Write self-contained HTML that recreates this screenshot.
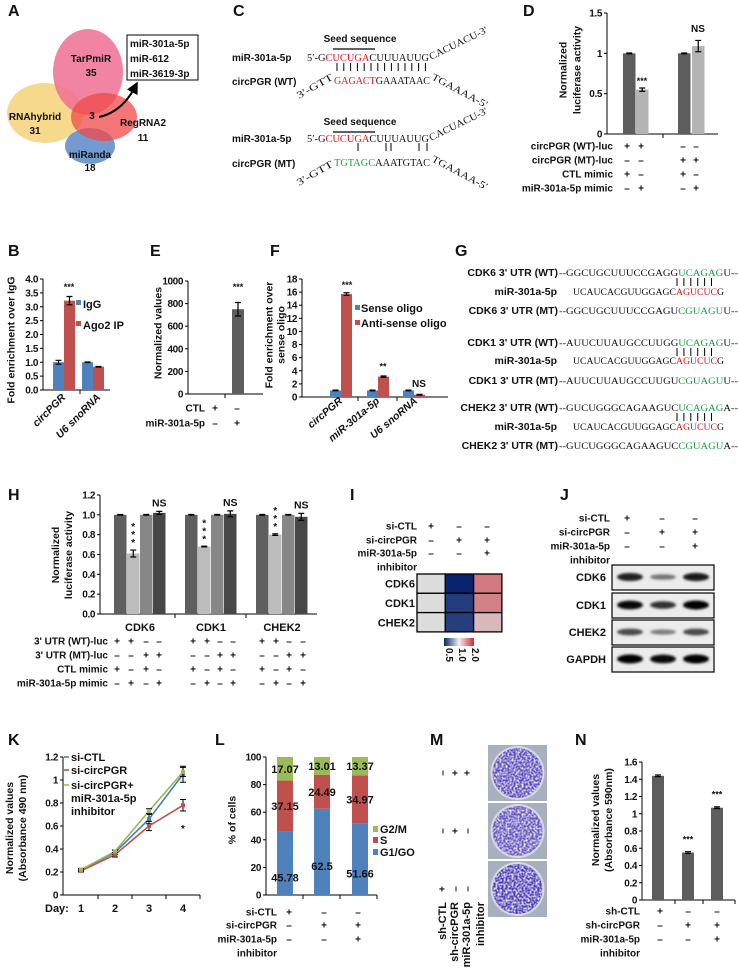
<!DOCTYPE html>
<html><head><meta charset="utf-8">
<style>
html,body{margin:0;padding:0;background:#fff;}
svg{display:block;font-family:"Liberation Sans",Arial,sans-serif;}
.t{font-size:10px;font-weight:bold;fill:#111;}
.tk{letter-spacing:-0.4px;}
.seq{font-family:"Liberation Serif",serif;font-size:10px;fill:#111;}
.lab{font-size:16px;font-weight:bold;fill:#111;}
</style></head>
<body>
<svg id="fig" width="738" height="976" viewBox="0 0 738 976" xmlns="http://www.w3.org/2000/svg">
<defs>
<filter id="blur" x="-20%" y="-50%" width="140%" height="200%"><feGaussianBlur stdDeviation="1.4"/></filter>
<filter id="speck"><feTurbulence type="fractalNoise" baseFrequency="0.5" numOctaves="2" result="n"/><feColorMatrix in="n" type="matrix" values="0 0 0 0 1 0 0 0 0 1 0 0 0 0 1 0 0 0 -2.2 1.3" result="m"/><feComposite in="m" in2="SourceGraphic" operator="in" result="c"/><feMerge><feMergeNode in="SourceGraphic"/><feMergeNode in="c"/></feMerge></filter>
<marker id="arrowhead" markerWidth="6" markerHeight="6" refX="3" refY="3" orient="auto"><path d="M0,0 L6,3 L0,6 Z" fill="#000"/></marker>
</defs>

<g>
<text class="lab" x="8" y="16">A</text>
<ellipse cx="45" cy="113" rx="38" ry="30" fill="#f6d27a" opacity="0.85"/>
<ellipse cx="88" cy="72" rx="35" ry="43" fill="#ee6e93" opacity="0.85"/>
<ellipse cx="90" cy="146" rx="25" ry="18" fill="#5b8ac8" opacity="0.85"/>
<ellipse cx="104" cy="117" rx="33" ry="24" fill="#f04848" opacity="0.75"/>
<text class="t" x="91" y="62" text-anchor="middle">TarPmiR</text>
<text class="t" x="91" y="76" text-anchor="middle">35</text>
<text class="t" x="35" y="120" text-anchor="middle">RNAhybrid</text>
<text class="t" x="35" y="134" text-anchor="middle">31</text>
<text class="t" x="92" y="119" text-anchor="middle">3</text>
<text class="t" x="143" y="126" text-anchor="middle">RegRNA2</text>
<text class="t" x="143" y="141" text-anchor="middle">11</text>
<text class="t" x="90" y="158" text-anchor="middle">miRanda</text>
<text class="t" x="90" y="171" text-anchor="middle">18</text>
<path d="M99,117 Q122,112 135,87" stroke="#000" stroke-width="2" fill="none" marker-end="url(#arrowhead)"/>
<rect x="127" y="35" width="71" height="45" fill="#fff" stroke="#000" stroke-width="1"/>
<text class="t" x="130" y="47">miR-301a-5p</text>
<text class="t" x="130" y="62">miR-612</text>
<text class="t" x="130" y="77">miR-3619-3p</text>
</g>

<g>
<text class="lab" x="233" y="16">C</text>
<text class="t" x="360" y="42" text-anchor="middle">Seed sequence</text>
<line x1="333" y1="49" x2="375" y2="49" stroke="#000" stroke-width="1.3"/>
<text class="t" x="232" y="61">miR-301a-5p</text>
<text class="seq" x="307" y="61" textLength="122" lengthAdjust="spacingAndGlyphs">5′-G<tspan fill="#e0141e">CUCUGA</tspan>CUUUAUUG</text>
<text class="seq" transform="translate(431,60) rotate(-26)" textLength="64" lengthAdjust="spacingAndGlyphs">CACUACU-3′</text>
<g id="wtbars" stroke="#000" stroke-width="1"></g>
<text class="t" x="232" y="85">circPGR (WT)</text>
<text class="seq" transform="translate(299,99) rotate(-30)" textLength="40" lengthAdjust="spacingAndGlyphs">3′-GTT</text>
<text class="seq" x="334" y="84" textLength="96" lengthAdjust="spacingAndGlyphs"><tspan fill="#e0141e">GAGACT</tspan>GAAATAAC</text>
<text class="seq" transform="translate(431,79) rotate(28)" textLength="62" lengthAdjust="spacingAndGlyphs">TGAAAA-5′</text>

<text class="t" x="360" y="125" text-anchor="middle">Seed sequence</text>
<line x1="333" y1="132" x2="375" y2="132" stroke="#000" stroke-width="1.3"/>
<text class="t" x="232" y="142">miR-301a-5p</text>
<text class="seq" x="307" y="142" textLength="122" lengthAdjust="spacingAndGlyphs">5′-G<tspan fill="#e0141e">CUCUGA</tspan>CUUUAUUG</text>
<text class="seq" transform="translate(431,141) rotate(-26)" textLength="64" lengthAdjust="spacingAndGlyphs">CACUACU-3′</text>
<g id="mtbars" stroke="#000" stroke-width="1"></g>
<text class="t" x="232" y="167">circPGR (MT)</text>
<text class="seq" transform="translate(299,186) rotate(-30)" textLength="40" lengthAdjust="spacingAndGlyphs">3′-GTT</text>
<text class="seq" x="334" y="166" textLength="96" lengthAdjust="spacingAndGlyphs"><tspan fill="#16a04a">TGTAGC</tspan>AAATGTAC</text>
<text class="seq" transform="translate(431,161) rotate(28)" textLength="62" lengthAdjust="spacingAndGlyphs">TGAAAA-5′</text>
</g>

<g id="panelG">
<text class="lab" x="455" y="256">G</text>
</g>

<text class="lab" x="523" y="16">D</text>
<text class="lab" x="8" y="256">B</text>
<text class="lab" x="150" y="256">E</text>
<text class="lab" x="270" y="256">F</text>
<text class="lab" x="8" y="500">H</text>
<text class="lab" x="350" y="500">I</text>
<text class="lab" x="560" y="500">J</text>
<text class="lab" x="8" y="745">K</text>
<text class="lab" x="215" y="745">L</text>
<text class="lab" x="430" y="745">M</text>
<text class="lab" x="575" y="745">N</text>
</svg>

<script>
const dVals = [1, 0.55, 1, 1.09];
const dErr = [0.005, 0.02, 0.005, 0.07];
const dTicks = [0, 0.5, 1, 1.5];
const dTickLabels = ["0", "0.5", "1", "1.5"];

const bCats = ["circPGR", "U6 snoRNA"];
const bIgG = [1.0, 1.0];
const bAgo = [3.22, 0.84];
const bErrIgG = [0.07, 0.01];
const bErrAgo = [0.15, 0.01];
const bTicks = [0, 0.5, 1, 1.5, 2, 2.5, 3, 3.5, 4];
const bTickLabels = ["0.0","0.5","1.0","1.5","2.0","2.5","3.0","3.5","4.0"];

const eVals = [0, 750];
const eErr = [0, 60];
const eTicks = [0, 200, 400, 600, 800, 1000];

const fCats = ["circPGR", "miR-301a-5p", "U6 snoRNA"];
const fSense = [1, 1, 1];
const fAnti = [15.7, 3.1, 0.35];
const fErrSense = [0.05, 0.05, 0.05];
const fErrAnti = [0.2, 0.1, 0.05];
const fTicks = [0, 2, 4, 6, 8, 10, 12, 14, 16, 18];

const hGenes = ["CDK6", "CDK1", "CHEK2"];
const hVals = [[1, 0.61, 1, 1.02], [1, 0.68, 1, 1.01], [1, 0.80, 1, 0.98]];
const hErr = [[0.003, 0.035, 0.003, 0.015], [0.003, 0.003, 0.003, 0.03], [0.003, 0.008, 0.003, 0.035]];
const hTicks = [0, 0.2, 0.4, 0.6, 0.8, 1.0, 1.2];
const hTickLabels = ["0.0","0.2","0.4","0.6","0.8","1.0","1.2"];

const iGenes = ["CDK6", "CDK1", "CHEK2"];
const iVals = [[1, 0.5, 1.55], [1, 0.62, 1.5], [1, 0.63, 1.2]];

const jProteins = ["CDK6", "CDK1", "CHEK2", "GAPDH"];
const jBand = [[0.8, 0.3, 0.85], [0.95, 0.7, 1.0], [0.55, 0.25, 0.55], [1.0, 0.95, 1.0]];

const kDays = [1, 2, 3, 4];
const kCtl = [0.22, 0.37, 0.66, 1.05];
const kCirc = [0.21, 0.35, 0.60, 0.78];
const kRes = [0.22, 0.38, 0.73, 1.07];
const kErrCtl = [0.01, 0.02, 0.04, 0.07];
const kErrCirc = [0.01, 0.02, 0.04, 0.05];
const kErrRes = [0.01, 0.01, 0.02, 0.04];
const kTicks = [0, 0.2, 0.4, 0.6, 0.8, 1, 1.2];
const kTickLabels = ["0","0.2","0.4","0.6","0.8","1","1.2"];

const lG1 = [45.78, 62.5, 51.66];
const lS = [37.15, 24.49, 34.97];
const lG2 = [17.07, 13.01, 13.37];
const lTicks = [0, 20, 40, 60, 80, 100];

const nVals = [1.44, 0.55, 1.07];
const nErr = [0.01, 0.01, 0.01];
const nTicks = [0, 0.2, 0.4, 0.6, 0.8, 1, 1.2, 1.4, 1.6];
const nTickLabels = ["0","0.2","0.4","0.6","0.8","1","1.2","1.4","1.6"];

const NS = "http://www.w3.org/2000/svg";
const svg = document.getElementById('fig');
function mk(tag, attrs, parent) {
  const e = document.createElementNS(NS, tag);
  for (const k in attrs) e.setAttribute(k, attrs[k]);
  (parent || svg).appendChild(e);
  return e;
}
function txt(x, y, s, anchor, extra, parent) {
  const t = mk('text', Object.assign({x: x, y: y, class: 't', 'text-anchor': anchor || 'start'}, extra || {}), parent);
  t.textContent = s;
  return t;
}
function scale(v, y0, yTop, max) { return y0 - v / max * (y0 - yTop); }
function yAxis(x, y0, yTop, max, ticks, labels, xEnd, dividers, name) {
  const g = mk('g', {});
  
  
  mk('line', {x1: x, y1: y0, x2: x, y2: yTop, stroke: '#000', 'stroke-width': 1}, g);
  mk('line', {x1: x, y1: y0, x2: xEnd, y2: y0, stroke: '#000', 'stroke-width': 1}, g);
  ticks.forEach((v, i) => {
    const y = scale(v, y0, yTop, max);
    mk('line', {x1: x - 3, y1: y, x2: x, y2: y, stroke: '#000'}, g);
    txt(x - 5, y + 3.5, labels[i], 'end', {class: 't tk'}, g);
  });
  (dividers || []).forEach(dx => mk('line', {x1: dx, y1: y0, x2: dx, y2: y0 + 4, stroke: '#000'}, g));
  return g;
}
function bar(x, w, v, err, y0, yTop, max, fill, name) {
  const y = scale(v, y0, yTop, max);
  const r = mk('rect', {x: x, y: y, width: w, height: y0 - y, fill: fill});
  
  
  if (err > 0) {
    const cx = x + w / 2, ya = scale(v + err, y0, yTop, max), yb = scale(v - err, y0, yTop, max);
    const eb = mk('path', {d: `M${cx-3},${ya}H${cx+3}M${cx},${ya}V${yb}M${cx-3},${yb}H${cx+3}`, stroke: '#000', 'stroke-width': 1.2, fill: 'none'});
    
    
  }
  return y;
}
function signRows(labels, rightX, cols, ys, signs) {
  labels.forEach((l, i) => { if (l) txt(rightX, ys[i] + 3.5, l, 'end'); });
  signs.forEach((row, i) => row.forEach((s, j) => {
    txt(cols[j], ys[i] + 3.5, s === '+' ? '+' : '–', 'middle');
  }));
}
function rotLabel(cx, cy, lines, gap) {
  lines.forEach((l, i) => {
    const t = txt(0, 0, l, 'middle', {transform: `translate(${cx + (i - (lines.length - 1) / 2) * gap},${cy}) rotate(-90)`, style: 'font-size:10.5px'});
    t.setAttribute('dy', '3.5');
  });
}

(function(){
  const g1 = document.getElementById('wtbars');
  for (let i = 0; i < 14; i++) { const x = 337 + i * 6.8; mk('line', {x1: x, y1: 63, x2: x, y2: 71}, g1); }
  const g2 = document.getElementById('mtbars');
  [358, 386, 391, 419, 427].forEach(x => mk('line', {x1: x, y1: 143, x2: x, y2: 151}, g2));
})();

(function(){
  const x = 607, y0 = 134, yTop = 13, max = 1.5;
  yAxis(x, y0, yTop, max, dTicks, dTickLabels, 718, [663], 'd-axes');
  const xs = [623, 636, 678, 692], fills = ['#5d5d5d', '#b4b4b4', '#5d5d5d', '#b4b4b4'];
  dVals.forEach((v, i) => bar(xs[i], 12.5, v, dErr[i], y0, yTop, max, fills[i], 'd-bar-' + i));
  txt(642, scale(dVals[1] + dErr[1], y0, yTop, max) - 4, '***', 'middle', {style: 'font-size:9px'});
  txt(698, 32, 'NS', 'middle');
  rotLabel(570, 70, ['Normalized', 'luciferase activity'], 14);
  signRows(['circPGR (WT)-luc', 'circPGR (MT)-luc', 'CTL mimic', 'miR-301a-5p mimic'], 613, [627, 641, 683, 696], [146, 160, 174, 188],
    [['+','+','-','-'], ['-','-','+','+'], ['+','-','+','-'], ['-','+','-','+']]);
})();

(function(){
  const x = 43, y0 = 390, yTop = 279, max = 4;
  yAxis(x, y0, yTop, max, bTicks, bTickLabels, 110, [80], 'b-axes');
  const base = [53, 82];
  bCats.forEach((c, i) => {
    bar(base[i], 11, bIgG[i], bErrIgG[i], y0, yTop, max, '#4f81bd', 'b-bar-igg-' + i);
    bar(base[i] + 11, 11, bAgo[i], bErrAgo[i], y0, yTop, max, '#c0504d', 'b-bar-ago2-' + i);
  });
  txt(69, 290, '***', 'middle', {style: 'font-size:9px'});
  mk('rect', {x: 76, y: 300, width: 5, height: 5, fill: '#4f81bd'});
  txt(83, 308, 'IgG', 'start', {style: 'font-size:11px'});
  mk('rect', {x: 76, y: 321, width: 5, height: 5, fill: '#c0504d'});
  txt(83, 329, 'Ago2 IP', 'start', {style: 'font-size:11px'});
  rotLabel(11, 340, ['Fold enrichment over IgG'], 0);
  bCats.forEach((c, i) => txt(0, 0, c, 'end', {transform: `translate(${[66, 101][i]},398) rotate(-45)`, 'font-style': 'italic', style: 'font-size:10.5px'}));
})();

(function(){
  const x = 188, y0 = 394, yTop = 281, max = 1000;
  yAxis(x, y0, yTop, max, eTicks, eTicks.map(String), 263, [225], 'e-axes');
  bar(207, 12, eVals[0], eErr[0], y0, yTop, max, '#5d5d5d', 'e-bar-ctl');
  bar(232, 12, eVals[1], eErr[1], y0, yTop, max, '#5d5d5d', 'e-bar-mir');
  txt(238, 290, '***', 'middle', {style: 'font-size:9px'});
  rotLabel(158, 333, ['Normalized values'], 0);
  signRows(['CTL', 'miR-301a-5p'], 205, [215, 237], [408, 423], [['+','-'], ['-','+']]);
})();

(function(){
  const x = 302, y0 = 397, yTop = 279, max = 18;
  yAxis(x, y0, yTop, max, fTicks, fTicks.map(String), 448, [358, 397], 'f-axes');
  const base = [330, 367, 403];
  fCats.forEach((c, i) => {
    bar(base[i], 11, fSense[i], fErrSense[i], y0, yTop, max, '#4f81bd', 'f-bar-sense-' + i);
    bar(base[i] + 11, 11, fAnti[i], fErrAnti[i], y0, yTop, max, '#c0504d', 'f-bar-antisense-' + i);
  });
  txt(347, scale(fAnti[0] + 0.3, y0, yTop, max) - 4, '***', 'middle', {style: 'font-size:9px'});
  txt(383, scale(fAnti[1] + 0.3, y0, yTop, max) - 5, '**', 'middle', {style: 'font-size:9px'});
  txt(419, 387, 'NS', 'middle');
  mk('rect', {x: 355, y: 305, width: 5, height: 5, fill: '#4f81bd'});
  txt(361, 312, 'Sense oligo', 'start', {style: 'font-size:11px'});
  mk('rect', {x: 355, y: 320, width: 5, height: 5, fill: '#c0504d'});
  txt(361, 327, 'Anti-sense oligo', 'start', {style: 'font-size:11px'});
  rotLabel(275, 335, ['Fold enrichment over', 'sense oligo'], 12);
  fCats.forEach((c, i) => txt(0, 0, c, 'end', {transform: `translate(${[343, 380, 418][i]},402) rotate(-40)`, 'font-style': 'italic', style: 'font-size:10.5px'}));
})();

(function(){
  const g = document.getElementById('panelG');
  const rows = [
    ['CDK6 3\' UTR (WT)', '--GGCUGCUUUCCGAGG', 'UCAGAG', 'U--', '#16a04a', 272],
    ['miR-301a-5p', 'UCAUCACGUUGGAGC', 'AGUCUC', 'G', '#e0141e', 291],
    ['CDK6 3\' UTR (MT)', '--GGCUGCUUUCCGAGU', 'CGUAGU', 'U--', '#16a04a', 310],
    ['CDK1 3\' UTR (WT)', '--AUUCUUAUGCCUUGG', 'UCAGAG', 'U--', '#16a04a', 342],
    ['miR-301a-5p', 'UCAUCACGUUGGAGC', 'AGUCUC', 'G', '#e0141e', 360],
    ['CDK1 3\' UTR (MT)', '--AUUCUUAUGCCUUGU', 'CGUAGU', 'U--', '#16a04a', 380],
    ['CHEK2 3\' UTR (WT)', '--GUCUGGGCAGAAGUC', 'UCAGAG', 'A--', '#16a04a', 407],
    ['miR-301a-5p', 'UCAUCACGUUGGAGC', 'AGUCUC', 'G', '#e0141e', 426],
    ['CHEK2 3\' UTR (MT)', '--GUCUGGGCAGAAGUC', 'CGUAGU', 'A--', '#16a04a', 445]
  ];
  rows.forEach((r, i) => {
    const isMir = r[0] === 'miR-301a-5p';
    txt(isMir ? 557 : 558, r[5] + 4, r[0], 'end', {style: 'font-size:10.5px'}, g);
    const t = mk('text', {x: isMir ? 573 : 559, y: r[5] + 4, class: 'seq', textLength: isMir ? 151 : 179, lengthAdjust: 'spacingAndGlyphs', style: 'font-size:9px'}, g);
    t.appendChild(document.createTextNode(r[1]));
    const sp = mk('tspan', {fill: r[4]}, t); sp.textContent = r[2];
    t.appendChild(document.createTextNode(r[3]));
    if (i % 3 === 0) {
      for (let k = 0; k < 6; k++) { const x = 677 + k * 6.9; mk('line', {x1: x, y1: r[5] + 6, x2: x, y2: r[5] + 14, stroke: '#000'}, g); }
    }
  });
})();

(function(){
  const x = 100, y0 = 614, yTop = 495, max = 1.2;
  yAxis(x, y0, yTop, max, hTicks, hTickLabels, 317, [175, 246], 'h-axes');
  const starts = [114, 185, 256], fills = ['#5f5f5f', '#bcbcbc', '#878787', '#474747'];
  hGenes.forEach((gname, gi) => {
    hVals[gi].forEach((v, j) => bar(starts[gi] + j * 13, 12.5, v, hErr[gi][j], y0, yTop, max, fills[j], 'h-bar-' + gname + '-' + j));
    const ys = scale(hVals[gi][1] + hErr[gi][1], y0, yTop, max);
    for (let k = 0; k < 3; k++) txt(starts[gi] + 13 + 6.25, ys - 4 - k * 8, '*', 'middle', {style: 'font-size:10px'});
    txt(starts[gi] + 39 + 6.25, scale(hVals[gi][3] + hErr[gi][3], y0, yTop, max) - 5, 'NS', 'middle', {style: 'font-size:10.5px'});
    txt(starts[gi] + 26, 631, gname, 'middle', {style: 'font-size:11px'});
  });
  rotLabel(62, 555, ['Normalized', 'luciferase activity'], 13);
  const cols = [117, 131, 146, 159, 193, 207, 220, 233, 262, 276, 289, 303];
  const pat = [['+','+','-','-'], ['-','-','+','+'], ['+','-','+','-'], ['-','+','-','+']];
  signRows(['3\' UTR (WT)-luc', '3\' UTR (MT)-luc', 'CTL mimic', 'miR-301a-5p mimic'], 108, cols, [641, 655, 669, 683],
    pat.map(r => r.concat(r, r)));
})();

(function(){
  signRows(['si-CTL', 'si-circPGR', 'miR-301a-5p', 'inhibitor'], 417, [431, 459, 487], [526, 540, 553, 567],
    [['+','-','-'], ['-','+','+'], ['-','-','+'], []]);
  function col(v) {
    const lo = [8, 36, 110], mid = [220, 220, 220], hi = [200, 40, 50];
    let a, f;
    if (v < 1) { a = lo; f = Math.sqrt(Math.min(1, (1 - v) / 0.5)); }
    else { a = hi; f = Math.min(1, (v - 1) / 1.0); }
    return `rgb(${Math.round(mid[0] + (a[0] - mid[0]) * f)},${Math.round(mid[1] + (a[1] - mid[1]) * f)},${Math.round(mid[2] + (a[2] - mid[2]) * f)})`;
  }
  const x0 = 417, y0 = 574, cw = 28.3, ch = 19.3;
  iGenes.forEach((gname, r) => {
    txt(415, y0 + r * ch + ch / 2 + 4, gname, 'end', {style: 'font-size:11px'});
    iVals[r].forEach((v, c) => {
      const cell = mk('rect', {x: x0 + c * cw, y: y0 + r * ch, width: cw, height: ch, fill: col(v), stroke: '#000', 'stroke-width': 1.3});
      
      
    });
  });
  const grad = mk('linearGradient', {id: 'cbar', x1: 0, x2: 1, y1: 0, y2: 0});
  [['0', '#08246e'], ['0.5', '#f0f0f0'], ['1', '#d42a30']].forEach(s => mk('stop', {offset: s[0], 'stop-color': s[1]}, grad));
  const cb = mk('rect', {x: 444, y: 638, width: 30, height: 8, fill: 'url(#cbar)'});
  
  
  ['0.5', '1.0', '2.0'].forEach((s, i) => txt(0, 0, s, 'start', {transform: `translate(${446 + i * 13},648) rotate(90)`, style: 'font-size:10px'}));
})();

(function(){
  signRows(['si-CTL', 'si-circPGR', 'miR-301a-5p', 'inhibitor'], 610, [627, 662, 695], [518, 532, 546, 560],
    [['+','-','-'], ['-','+','+'], ['-','-','+'], []]);
  const boxes = [565, 593, 620, 647];
  jProteins.forEach((p, r) => {
    txt(606, boxes[r] + 16, p, 'end', {style: 'font-size:11px'});
    const b = mk('rect', {x: 612, y: boxes[r], width: 102, height: 25, fill: '#ececec', stroke: '#000', 'stroke-width': 1.2});
    
    
    jBand[r].forEach((v, c) => {
      const band = mk('ellipse', {cx: 630 + c * 33, cy: boxes[r] + 12, rx: 13, ry: 2 + 2.5 * v, fill: '#000', opacity: 0.3 + 0.7 * v, filter: 'url(#blur)'});
      
      
    });
  });
})();

(function(){
  const x = 63, y0 = 895, yTop = 757, max = 1.2;
  yAxis(x, y0, yTop, max, kTicks, kTickLabels, 200, [98, 132, 166, 200], 'k-axes');
  const xd = d => 81 + (d - 1) * 34;
  const series = [[kCtl, kErrCtl, '#4a7ebb', 'si-CTL'], [kCirc, kErrCirc, '#c0504d', 'si-circPGR'], [kRes, kErrRes, '#9bbb59', 'rescue']];
  series.forEach(s => {
    const pts = kDays.map((d, i) => `${xd(d)},${scale(s[0][i], y0, yTop, max)}`).join(' ');
    const pl = mk('polyline', {points: pts, fill: 'none', stroke: s[2], 'stroke-width': 1.6});
    
    
    kDays.forEach((d, i) => {
      const cx = xd(d), ya = scale(s[0][i] + s[1][i], y0, yTop, max), yb = scale(s[0][i] - s[1][i], y0, yTop, max);
      mk('path', {d: `M${cx-3},${ya}H${cx+3}M${cx},${ya}V${yb}M${cx-3},${yb}H${cx+3}`, stroke: '#000', 'stroke-width': 1, fill: 'none'});
      mk('rect', {x: cx - 2, y: scale(s[0][i], y0, yTop, max) - 2, width: 4, height: 4, fill: s[2]});
    });
  });
  txt(183, 832, '*', 'middle');
  [['si-CTL', '#4a7ebb', 757], ['si-circPGR', '#c0504d', 770], ['si-circPGR+', '#9bbb59', 785]].forEach(l => {
    mk('line', {x1: 64, y1: l[2], x2: 69, y2: l[2], stroke: l[1], 'stroke-width': 1.6});
    txt(71, l[2] + 4, l[0], 'start', {style: 'font-size:11px'});
  });
  txt(71, 802, 'miR-301a-5p', 'start', {style: 'font-size:11px'});
  txt(71, 815, 'inhibitor', 'start', {style: 'font-size:11px'});
  txt(45, 912, 'Day:', 'start', {style: 'font-size:11px'});
  kDays.forEach(d => txt(xd(d), 912, String(d), 'middle', {style: 'font-size:11px'}));
  rotLabel(16, 828, ['Normalized values', '(Absorbance 490 nm)'], 13);
})();

(function(){
  const x = 266, y0 = 895, yTop = 757, max = 100;
  yAxis(x, y0, yTop, max, lTicks, lTicks.map(String), 377, [303, 340, 377], 'l-axes');
  const xs = [277, 314, 352];
  lG1.forEach((v, i) => {
    const yG1 = scale(lG1[i], y0, yTop, max), yS = scale(lG1[i] + lS[i], y0, yTop, max), yT = scale(lG1[i] + lS[i] + lG2[i], y0, yTop, max);
    const r1 = mk('rect', {x: xs[i], y: yG1, width: 16, height: y0 - yG1, fill: '#4f81bd'});
     
    const r2 = mk('rect', {x: xs[i], y: yS, width: 16, height: yG1 - yS, fill: '#c0504d'});
     
    const r3 = mk('rect', {x: xs[i], y: yT, width: 16, height: yS - yT, fill: '#9bbb59'});
     
    txt(xs[i] + 8, (y0 + yG1) / 2 + 18, String(lG1[i]), 'middle', {style: 'font-size:11px'});
    txt(xs[i] + 8, (yG1 + yS) / 2 + 4, String(lS[i]), 'middle', {style: 'font-size:11px'});
    txt(xs[i] + 8, (yS + yT) / 2 + 4, String(lG2[i]), 'middle', {style: 'font-size:11px'});
  });
  [['G2/M', '#9bbb59', 829], ['S', '#c0504d', 840], ['G1/GO', '#4f81bd', 852]].forEach(l => {
    mk('rect', {x: 373, y: l[2] - 3, width: 5, height: 6, fill: l[1]});
    txt(380, l[2] + 4, l[0], 'start', {style: 'font-size:11px'});
  });
  rotLabel(232, 820, ['% of cells'], 0);
  signRows(['si-CTL', 'si-circPGR', 'miR-301a-5p', 'inhibitor'], 277, [289, 324, 358], [912, 925, 939, 953],
    [['+','-','-'], ['-','+','+'], ['-','-','+'], []]);
})();

(function(){
  const plates = [745, 803, 861];
  const dens = [0.75, 0.6, 1.0];
  plates.forEach((y, i) => {
    const bg = mk('rect', {x: 488, y: y, width: 59, height: 56, fill: '#a9b0bd'});
    
    
    mk('circle', {cx: 517.5, cy: y + 28, r: 27, fill: '#d6d8e2'});
    mk('circle', {cx: 517.5, cy: y + 28, r: 25, fill: `rgb(${Math.round(140 - 60 * dens[i])},${Math.round(120 - 60 * dens[i])},${Math.round(210 - 20 * dens[i])})`, filter: 'url(#speck)'});
  });
  const mSigns = [['-','+','+'], ['-','+','-'], ['+','-','-']];
  const cols = [442, 455, 467];
  mSigns.forEach((row, i) => row.forEach((s, j) => {
    txt(0, 0, s === '+' ? '+' : '–', 'middle', {transform: `translate(${cols[j]},${plates[i] + 28}) rotate(-90)`, dy: '3.5'});
  }));
  ['sh-CTL', 'sh-circPGR', 'miR-301a-5p', 'inhibitor'].forEach((l, i) => {
    txt(0, 0, l, 'end', {transform: `translate(${[446, 458, 470, 484][i]},902) rotate(-90)`, style: 'font-size:11px'});
  });
})();

(function(){
  const x = 642, y0 = 900, yTop = 762, max = 1.6;
  yAxis(x, y0, yTop, max, nTicks, nTickLabels, 735, [675, 703, 735], 'n-axes');
  const xs = [652, 682, 711];
  nVals.forEach((v, i) => bar(xs[i], 12, v, nErr[i], y0, yTop, max, '#5d5d5d', 'n-bar-' + i));
  txt(688, scale(nVals[1], y0, yTop, max) - 10, '***', 'middle', {style: 'font-size:9px'});
  txt(717, scale(nVals[2], y0, yTop, max) - 10, '***', 'middle', {style: 'font-size:9px'});
  rotLabel(602, 820, ['Normalized values', '(Absorbance 590nm)'], 13);
  signRows(['sh-CTL', 'sh-circPGR', 'miR-301a-5p', 'inhibitor'], 640, [660, 688, 717], [911, 925, 939, 953],
    [['+','-','-'], ['-','+','+'], ['-','-','+'], []]);
})();
</script>
</body></html>
